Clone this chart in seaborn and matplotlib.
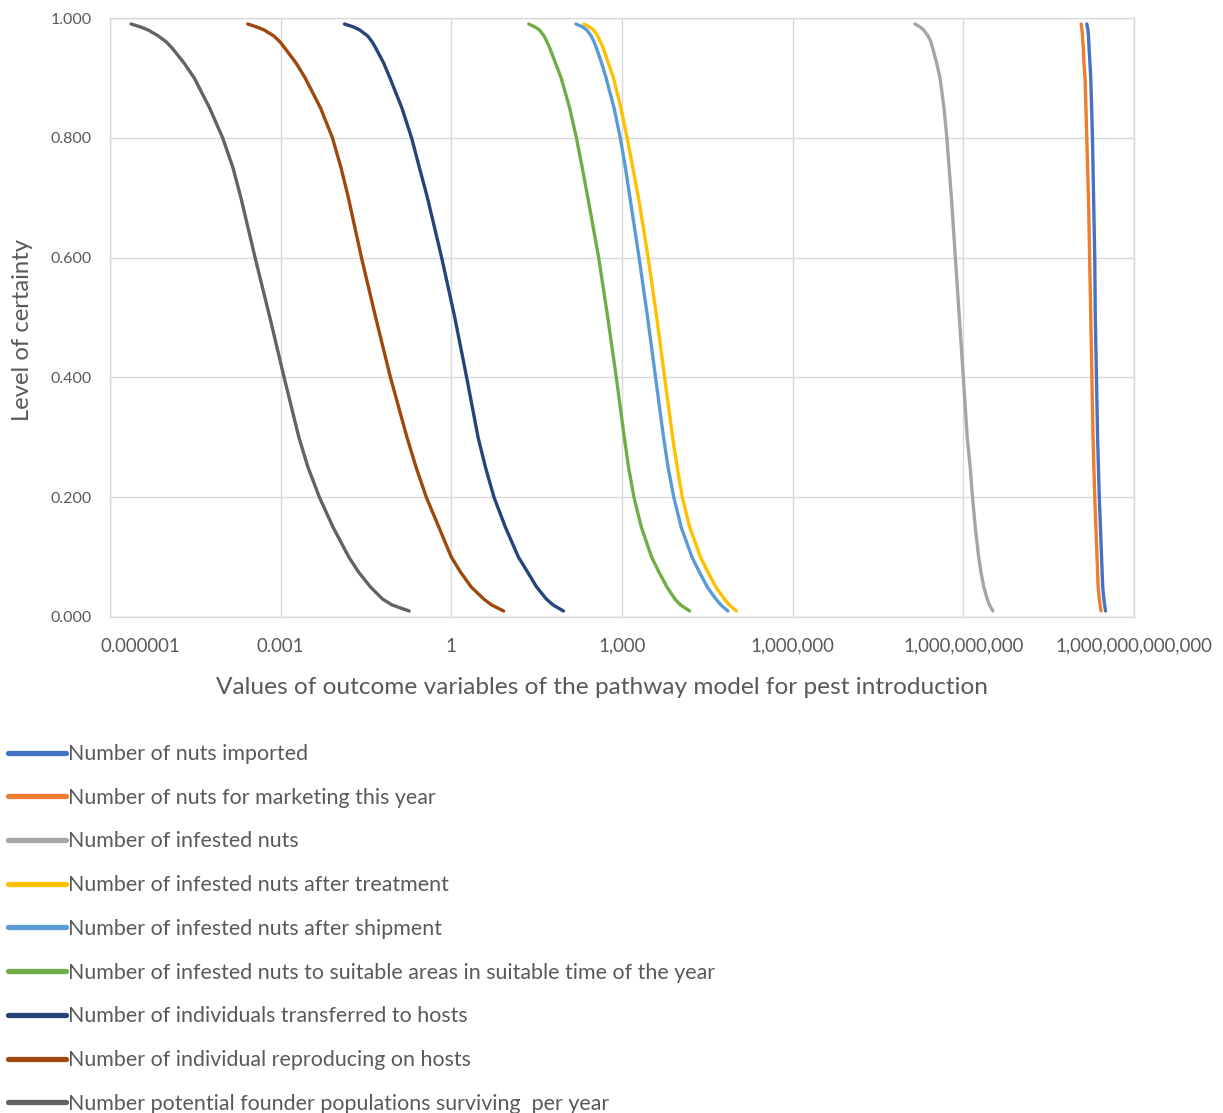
import numpy as np
import pandas as pd
import matplotlib
matplotlib.use("Agg")
import matplotlib.pyplot as plt
import matplotlib.transforms as mtransforms
import seaborn as sns

# Level of certainty (exceedance level) at which each outcome was evaluated
certainty = [0.99, 0.985, 0.98, 0.97, 0.96, 0.95, 0.925, 0.90, 0.85, 0.80, 0.75,
             0.70, 0.60, 0.50, 0.40, 0.30, 0.25, 0.20, 0.15, 0.10, 0.075, 0.05,
             0.03, 0.02, 0.01]

nuts_imported = [1.479e11, 1.514e11, 1.549e11, 1.585e11, 1.60e11, 1.622e11, 1.68e11,
                 1.738e11, 1.80e11, 1.862e11, 1.905e11, 1.950e11, 2.042e11, 2.089e11,
                 2.188e11, 2.291e11, 2.37e11, 2.455e11, 2.570e11, 2.692e11, 2.754e11,
                 2.818e11, 2.951e11, 3.05e11, 3.162e11]
nuts_marketing = [1.175e11, 1.202e11, 1.216e11, 1.245e11, 1.259e11, 1.288e11, 1.318e11,
                  1.380e11, 1.43e11, 1.479e11, 1.53e11, 1.585e11, 1.660e11, 1.738e11,
                  1.820e11, 1.905e11, 1.97e11, 2.042e11, 2.138e11, 2.239e11, 2.291e11,
                  2.344e11, 2.455e11, 2.54e11, 2.630e11]
infested_nuts = [1.41e8, 1.74e8, 2.00e8, 2.40e8, 2.69e8, 2.88e8, 3.39e8,
                 3.89e8, 4.57e8, 5.13e8, 5.62e8, 6.17e8, 7.24e8, 8.51e8,
                 1.00e9, 1.17e9, 1.32e9, 1.45e9, 1.62e9, 1.86e9, 2.04e9,
                 2.29e9, 2.63e9, 2.88e9, 3.31e9]
after_treatment = [214, 269, 316, 372, 417, 468, 575,
                   708, 955, 1230, 1549, 1950, 2884, 4074,
                   5623, 7762, 9333, 11480, 15490, 23990, 32360,
                   44670, 63100, 77620, 102300]
after_shipment = [155, 204, 240, 288, 324, 355, 437,
                  525, 724, 933, 1148, 1380, 1995, 2818,
                  3890, 5370, 6457, 8128, 10960, 16980, 22910,
                  31620, 44670, 54950, 72440]
suitable_areas = [22.9, 29.5, 35.5, 42.7, 47.9, 53.7, 67.6,
                  85.1, 120, 158, 200, 251, 389, 562,
                  794, 1096, 1303, 1622, 2188, 3311, 4467,
                  6166, 8511, 10720, 15490]
transferred = [0.0132, 0.0191, 0.0245, 0.0339, 0.0407, 0.0468, 0.0646,
               0.0832, 0.135, 0.200, 0.275, 0.380, 0.676, 1.15,
               1.86, 2.95, 3.98, 5.62, 8.91, 15.1, 21.9,
               31.6, 46.8, 61.7, 93.3]
reproducing = [2.63e-4, 3.80e-4, 5.13e-4, 7.59e-4, 9.77e-4, 1.18e-3, 1.86e-3,
               2.69e-3, 5.01e-3, 8.13e-3, 0.0115, 0.0155, 0.0263, 0.0468,
               0.0851, 0.166, 0.240, 0.363, 0.603, 1.00, 1.45,
               2.24, 3.72, 5.13, 8.32]
founders = [2.34e-6, 3.47e-6, 4.68e-6, 7.08e-6, 9.77e-6, 1.23e-5, 2.00e-5,
            3.02e-5, 5.62e-5, 9.55e-5, 1.45e-4, 2.00e-4, 3.55e-4, 6.46e-4,
            1.15e-3, 2.09e-3, 3.02e-3, 4.79e-3, 8.32e-3, 0.0158, 0.0234,
            0.0380, 0.0617, 0.0912, 0.182]

series_names = [
    "Number of nuts imported",
    "Number of nuts for marketing this year",
    "Number of infested nuts",
    "Number of infested nuts after treatment",
    "Number of infested nuts after shipment",
    "Number of infested nuts to suitable areas in suitable time of the year",
    "Number of individuals transferred to hosts",
    "Number of individual reproducing on hosts",
    "Number potential founder populations surviving  per year",
]
series_values = [nuts_imported, nuts_marketing, infested_nuts, after_treatment,
                 after_shipment, suitable_areas, transferred, reproducing, founders]
series_colors = ["#4472C4", "#ED7D31", "#A5A5A5", "#FFC000", "#5B9BD5",
                 "#70AD47", "#264478", "#9E480E", "#636363"]

x_ticks = [1e-6, 1e-3, 1, 1e3, 1e6, 1e9, 1e12]
x_tick_labels = ["0.000001", "0.001", "1", "1,000", "1,000,000",
                 "1,000,000,000", "1,000,000,000,000"]
y_ticks = [0.0, 0.2, 0.4, 0.6, 0.8, 1.0]

rows = []
for name, vals in zip(series_names, series_values):
    assert len(vals) == len(certainty), name
    for c, v in zip(certainty, vals):
        rows.append({"series": name, "certainty": c, "value": v})
df = pd.DataFrame(rows)

sns.set_theme(style="white")
plt.rcParams["font.family"] = ["Lato", "DejaVu Sans"]

fig = plt.figure(figsize=(12.23, 11.13), dpi=100)
ax = fig.add_axes([110 / 1223, 1 - 617 / 1113, 1024 / 1223, 599 / 1113])

sns.lineplot(data=df, x="value", y="certainty", hue="series",
             hue_order=series_names, palette=series_colors,
             estimator=None, sort=False, linewidth=2.4, ax=ax)
for line in ax.get_lines():
    line.set_solid_capstyle("round")
    line.set_solid_joinstyle("round")

ax.set_xscale("log")
ax.set_xlim(1e-6, 1e12)
ax.set_ylim(0, 1)
ax.set_xticks(x_ticks)
ax.set_xticklabels(x_tick_labels)
ax.minorticks_off()
ax.set_yticks(y_ticks)
ax.set_yticklabels([f"{t:.3f}" for t in y_ticks])

grid_color = "#D9D9D9"
ax.grid(True, color=grid_color, linewidth=1.0)
for side, sp in ax.spines.items():
    sp.set_color(grid_color)
    sp.set_linewidth(1.0)
ax.tick_params(axis="both", length=0, colors="#595959")
ax.tick_params(axis="x", labelsize=13.4, pad=15)
ax.tick_params(axis="y", labelsize=11.5, pad=13)

# first x label sits inside the plot edge
first = ax.get_xticklabels()[0]
first.set_transform(first.get_transform() +
                    mtransforms.ScaledTranslation(30 / 100, 0, fig.dpi_scale_trans))

ax.set_xlabel("Values of outcome variables of the pathway model for pest introduction",
              fontsize=17.6, color="#595959")
ax.xaxis.set_label_coords((602 - 110) / 1024, (617 - 687) / 599)
ax.xaxis.label.set_va("center")
ax.set_ylabel("Level of certainty", fontsize=17.2, color="#595959")
ax.yaxis.set_label_coords((23 - 110) / 1024, (617 - 330) / 599)
ax.yaxis.label.set_va("center")

handles, labels = ax.get_legend_handles_labels()
ax.get_legend().remove()
leg = fig.legend(handles, labels, loc="upper left",
                 bbox_to_anchor=(8 / 1223, 1 - 744 / 1113),
                 frameon=False, fontsize=15.4, handlelength=2.7,
                 handletextpad=0.1, labelspacing=1.11, borderaxespad=0,
                 borderpad=0)
for h in leg.get_lines():
    h.set_linewidth(3.8)
    h.set_solid_capstyle("round")
for t in leg.get_texts():
    t.set_color("#595959")

fig.savefig("out.png", dpi=100, facecolor="white")
